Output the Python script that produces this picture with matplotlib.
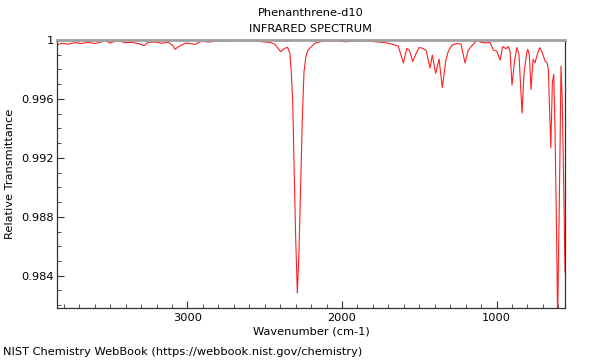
import matplotlib
matplotlib.use('Agg')
import matplotlib.pyplot as plt
from matplotlib.ticker import FixedLocator, MultipleLocator, FuncFormatter

# spectrum (wavenumber in cm-1, relative transmittance)
wavenumber = [3845, 3814, 3771, 3728, 3685, 3642, 3599, 3545, 3534, 3502,
              3448, 3404, 3361, 3318, 3280, 3254, 3210, 3167, 3124, 3092,
              3081, 3066, 3049, 3016, 2984, 2951, 2908, 2865, 2811, 2757,
              2704, 2649, 2596, 2552, 2498, 2466, 2434, 2397, 2369, 2352,
              2337, 2327, 2319, 2309, 2300, 2289, 2278, 2267, 2257, 2246,
              2233, 2220, 2207, 2175, 2142, 2110, 2045, 1981, 1916, 1851,
              1786, 1754, 1711, 1678, 1636, 1603, 1581, 1564, 1542, 1521,
              1500, 1478, 1456, 1430, 1416, 1394, 1372, 1351, 1329, 1312,
              1290, 1258, 1230, 1204, 1183, 1161, 1128, 1096, 1064, 1042,
              1021, 999, 977, 960, 939, 924, 913, 900, 885, 869,
              855, 835, 822, 805, 798, 788, 777, 764, 751, 736,
              721, 704, 686, 673, 665, 658, 649, 639, 630, 621,
              610, 605, 600, 591, 583, 575, 566, 557]
transmittance = [0.99966, 0.99978, 0.99972, 0.99982, 0.99976, 0.99984, 0.99976, 0.99990, 0.99996, 0.99980,
                 0.99996, 0.99982, 0.99984, 0.99976, 0.99962, 0.99984, 0.99986, 0.99978, 0.99986, 0.99959,
                 0.99937, 0.99948, 0.99959, 0.99978, 0.99976, 0.99970, 0.99992, 0.99986, 0.99992, 0.99992,
                 0.99998, 0.99996, 0.99998, 0.99992, 0.99986, 0.99984, 0.99971, 0.99921, 0.99944, 0.99950,
                 0.99910, 0.99762, 0.99579, 0.99104, 0.98669, 0.98282, 0.98574, 0.99049, 0.99457, 0.99783,
                 0.99891, 0.99932, 0.99946, 0.99978, 0.99988, 0.99993, 0.99995, 0.99988, 0.99992, 0.99995,
                 0.99988, 0.99986, 0.99980, 0.99972, 0.99959, 0.99844, 0.99942, 0.99929, 0.99854, 0.99908,
                 0.99949, 0.99944, 0.99929, 0.99810, 0.99898, 0.99774, 0.99871, 0.99677, 0.99857, 0.99925,
                 0.99964, 0.99976, 0.99973, 0.99844, 0.99932, 0.99959, 0.99997, 0.99983, 0.99980, 0.99983,
                 0.99932, 0.99925, 0.99864, 0.99955, 0.99941, 0.99956, 0.99925, 0.99694, 0.99846, 0.99949,
                 0.99903, 0.99504, 0.99778, 0.99914, 0.99937, 0.99898, 0.99664, 0.99869, 0.99846, 0.99903,
                 0.99948, 0.99914, 0.99857, 0.99846, 0.99801, 0.99574, 0.99267, 0.99710, 0.99767, 0.99348,
                 0.98554, 0.98099, 0.98445, 0.99124, 0.99823, 0.99590, 0.99050, 0.98425]

yticks = [0.984, 0.988, 0.992, 0.996, 1.0]
xticks = [3000, 2000, 1000]

fs = 8.2

fig = plt.figure(figsize=(6, 3.6), dpi=100)
ax = fig.add_axes([0.095, 0.1436, 0.8467, 0.7453])

ax.plot(wavenumber, transmittance, color='#ff2020', linewidth=0.8)

ax.set_xlim(3844, 557)
ax.set_ylim(0.98179, 1.0)

ax.xaxis.set_major_locator(FixedLocator(xticks))
ax.xaxis.set_minor_locator(MultipleLocator(100))
ax.yaxis.set_major_locator(FixedLocator(yticks))
ax.yaxis.set_minor_locator(MultipleLocator(0.001))
ax.yaxis.set_major_formatter(FuncFormatter(lambda v, p: f'{v:g}'))

ax.tick_params(which='both', direction='in', labelsize=fs, colors='#333333', labelcolor='black')
ax.tick_params(which='major', length=5)
ax.tick_params(which='minor', length=3)
ax.tick_params(axis='y', pad=2.5)

for side in ['left', 'bottom', 'right']:
    ax.spines[side].set_color('#333333')
    ax.spines[side].set_linewidth(0.9)
ax.spines['top'].set_color('#a0a0a0')
ax.spines['top'].set_linewidth(2)

ax.set_xlabel('Wavenumber (cm-1)', fontsize=fs, labelpad=2.5)
ax.set_ylabel('Relative Transmittance', fontsize=fs, labelpad=4)

fig.text(0.518, 1 - 13 / 360, 'Phenanthrene-d10', ha='center', va='center', fontsize=fs)
fig.text(0.518, 1 - 29.5 / 360, 'INFRARED SPECTRUM', ha='center', va='center', fontsize=fs)
fig.text(0.005, 1 - 352 / 360, 'NIST Chemistry WebBook (https://webbook.nist.gov/chemistry)',
         ha='left', va='center', fontsize=fs)

plt.savefig('out.png')
